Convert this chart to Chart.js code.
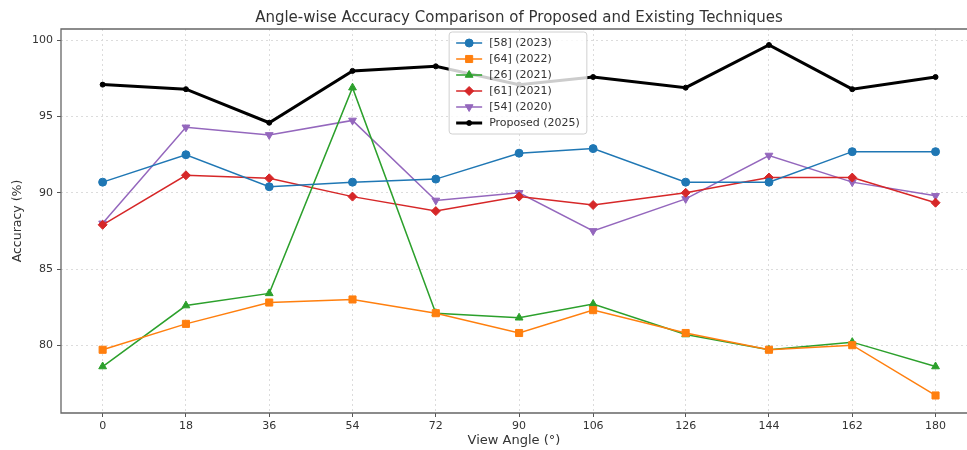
<!DOCTYPE html>
<html>
<head>
<meta charset="utf-8">
<script src="https://cdn.jsdelivr.net/npm/chart.js@4.4.1/dist/chart.umd.min.js"></script>
<style>
  html, body { margin: 0; padding: 0; background: #fff; overflow: hidden; }
  canvas { display: block; }
</style>
</head>
<body>
<canvas id="angleChart" width="967" height="450"></canvas>
<script>
(function () {
    'use strict';

    // ── Data ──────────────────────────────────────────────────────────────────
    const angles   = [0, 18, 36, 54, 72, 90, 106, 126, 144, 162, 180];
    const yTicks   = [80, 85, 90, 95, 100];
    const ref58    = [90.7, 92.5, 90.4, 90.7, 90.9, 92.6, 92.9, 90.7, 90.7, 92.7, 92.7];
    const ref64    = [79.7, 81.4, 82.8, 83.0, 82.1, 80.8, 82.3, 80.8, 79.7, 80.0, 76.7];
    const ref26    = [78.6, 82.6, 83.4, 96.9, 82.1, 81.8, 82.7, 80.7, 79.7, 80.2, 78.6];
    const ref61    = [87.9, 91.15, 90.95, 89.75, 88.8, 89.75, 89.2, 90.0, 91.0, 91.0, 89.35];
    const ref54    = [88.0, 94.3, 93.8, 94.75, 89.5, 90.0, 87.5, 89.6, 92.45, 90.7, 89.8];
    const proposed = [97.1, 96.8, 94.6, 98.0, 98.3, 97.1, 97.6, 96.9, 99.7, 96.8, 97.6];

    const FONT = '"DejaVu Sans", sans-serif';
    const TEXT = '#333';

    const series = [
        { label: '[58] (2023)',     data: ref58,    color: '#1f77b4', style: 'circle',   r: 4,   rot: 0,   lw: 1.5 },
        { label: '[64] (2022)',     data: ref64,    color: '#ff7f0e', style: 'rect',     r: 5,   rot: 0,   lw: 1.5 },
        { label: '[26] (2021)',     data: ref26,    color: '#2ca02c', style: 'triangle', r: 4.5, rot: 0,   lw: 1.5 },
        { label: '[61] (2021)',     data: ref61,    color: '#d62728', style: 'rectRot',  r: 4.5, rot: 0,   lw: 1.5 },
        { label: '[54] (2020)',     data: ref54,    color: '#9467bd', style: 'triangle', r: 4.5, rot: 180, lw: 1.5 },
        { label: 'Proposed (2025)', data: proposed, color: '#000000', style: 'circle',   r: 2.5, rot: 0,   lw: 3   },
    ];

    const datasets = series.map(s => ({
        label:                s.label,
        data:                 s.data.map((v, i) => ({ x: angles[i], y: v })),
        borderColor:          s.color,
        backgroundColor:      s.color,
        borderWidth:          s.lw,
        pointStyle:           s.style,
        pointRadius:          s.r,
        pointRotation:        s.rot,
        pointBackgroundColor: s.color,
        pointBorderColor:     s.color,
        pointBorderWidth:     1,
        tension:              0,
    }));

    // ── Plugin: title, frame and in-plot legend ──────────────────────────────
    const decor = {
        id: 'decor',
        afterDatasetsDraw(chart) {
            const { ctx, chartArea: a } = chart;
            ctx.save();
            // spines (right one falls outside the crop)
            ctx.strokeStyle = '#666';
            ctx.lineWidth = 1.3;
            ctx.beginPath();
            ctx.moveTo(chart.width, a.top);
            ctx.lineTo(a.left, a.top);
            ctx.lineTo(a.left, a.bottom);
            ctx.lineTo(chart.width, a.bottom);
            ctx.stroke();

            ctx.fillStyle = TEXT;
            ctx.font = '15px ' + FONT;
            ctx.textAlign = 'center';
            ctx.textBaseline = 'middle';
            ctx.fillText('Angle-wise Accuracy Comparison of Proposed and Existing Techniques', 519, 18);

            // legend (upper center of the full axes)
            ctx.font = '11px ' + FONT;
            const rowH = 16, lineLen = 26, gap = 7, pad = 7;
            const textW = Math.max(...series.map(s => ctx.measureText(s.label).width));
            const w = pad + lineLen + gap + textW + pad;
            const h = rowH * series.length + 6;
            const x0 = 518 - w / 2;
            const y0 = a.top + 3;

            ctx.beginPath();
            ctx.roundRect(x0, y0, w, h, 3);
            ctx.fillStyle = 'rgba(255,255,255,0.8)';
            ctx.fill();
            ctx.strokeStyle = '#d0d0d0';
            ctx.lineWidth = 1;
            ctx.stroke();

            series.forEach((s, i) => {
                const cy = y0 + 11 + i * rowH;
                const lx = x0 + pad;
                ctx.strokeStyle = s.color;
                ctx.lineWidth = s.lw;
                ctx.beginPath();
                ctx.moveTo(lx, cy);
                ctx.lineTo(lx + lineLen, cy);
                ctx.stroke();
                ctx.fillStyle = s.color;
                ctx.lineWidth = 1;
                Chart.helpers.drawPoint(ctx, {
                    pointStyle: s.style, radius: s.r, rotation: s.rot, borderWidth: 1
                }, lx + lineLen / 2, cy);
                ctx.fillStyle = TEXT;
                ctx.textAlign = 'left';
                ctx.fillText(s.label, lx + lineLen + gap, cy + 0.5);
            });
            ctx.restore();
        }
    };

    const gridOpts = {
        color:      '#dcdcdc',
        lineWidth:  1,
        drawTicks:  true,
        tickLength: 4,
        tickColor:  '#555',
        tickWidth:  1,
        tickBorderDash: [],
    };

    new Chart(document.getElementById('angleChart'), {
        type: 'line',
        data: { datasets },
        options: {
            responsive: false,
            animation:  false,
            layout: { autoPadding: false, padding: { top: 29, right: 0, bottom: 0, left: 0 } },
            plugins: {
                legend:  { display: false },
                title:   { display: false },
                tooltip: { enabled: false },
            },
            scales: {
                x: {
                    type: 'linear',
                    min: -9,
                    max: 186.8,
                    afterBuildTicks: s => { s.ticks = angles.map(v => ({ value: v })); },
                    afterFit: s => { s.height = 37; },
                    grid:   gridOpts,
                    border: { display: false, dash: [2, 3] },
                    ticks:  { color: TEXT, font: { family: FONT, size: 11 }, padding: 3, maxRotation: 0,
                              callback: v => String(v) },
                    title:  { display: true, text: 'View Angle (°)', color: TEXT,
                              font: { family: FONT, size: 13 }, padding: { top: 0, bottom: 1.8 } },
                },
                y: {
                    min: 75.55,
                    max: 100.75,
                    afterBuildTicks: s => { s.ticks = yTicks.map(v => ({ value: v })); },
                    afterFit: s => { s.width = 61; },
                    grid:   gridOpts,
                    border: { display: false, dash: [2, 3] },
                    ticks:  { color: TEXT, font: { family: FONT, size: 11 }, padding: 4 },
                    title:  { display: true, text: 'Accuracy (%)', color: TEXT,
                              font: { family: FONT, size: 12.5 }, padding: { top: 10, bottom: 0 } },
                },
            },
        },
        plugins: [decor],
    });
})();
</script>
</body>
</html>
